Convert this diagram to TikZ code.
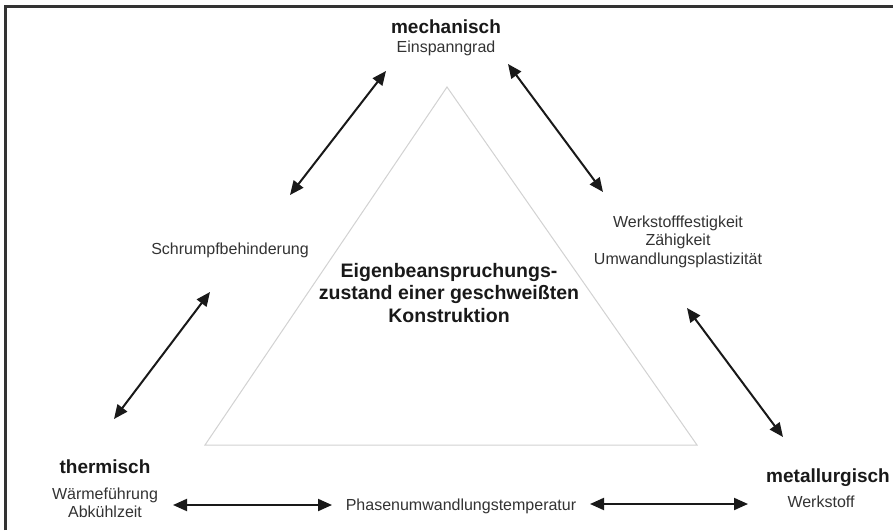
\documentclass[tikz,border=0pt]{standalone}
\usepackage{fontspec}
\setmainfont{Liberation Sans}
\usetikzlibrary{arrows.meta}

\begin{document}
\begin{tikzpicture}[
  x=1pt,y=-1pt,
  cat/.style={font=\fontsize{19}{21}\selectfont\bfseries,text=black!90,inner sep=0pt,anchor=base},
  sub/.style={font=\fontsize{16}{18.5}\selectfont,text=black!80,inner sep=0pt,anchor=base,align=center},
  arr/.style={line width=2pt,draw=black!90,{Triangle[length=14pt,width=12pt]}-{Triangle[length=14pt,width=12pt]}}
]
\useasboundingbox (0,0) rectangle (893,530);
\fill[white] (0,0) rectangle (893,530);
\draw[line width=2.5pt,black!80] (5.3,530) -- (5.3,6.6) -- (893,6.6);

% triangle
\draw[gray!35,line width=1pt] (447,87) -- (205,445) -- (697,445) -- cycle;

\node[cat] (mech) at (446,33) {mechanisch};
\node[sub] (einsp) at (446,52) {Einspanngrad};
\node[sub] (schrumpf) at (230,254) {Schrumpfbehinderung};
\node[sub] (festigk) at (678,264) {Werkstofffestigkeit\\Zähigkeit\\Umwandlungsplastizität};
\node[cat,align=center,font=\fontsize{19.5}{22.5}\selectfont\bfseries] (zustand) at (449,322)
  {Eigenbeanspruchungs-\\zustand einer geschweißten\\Konstruktion};
\node[cat] (therm) at (105,473) {thermisch};
\node[sub,font=\fontsize{16}{17.5}\selectfont] (waerme) at (105,517) {Wärmeführung\\Abkühlzeit};
\node[sub] (phase) at (461,510) {Phasenumwandlungstemperatur};
\node[cat] (metall) at (828,482) {metallurgisch};
\node[sub] (werkst) at (821,507) {Werkstoff};

% arrow ends
\coordinate (mt1) at (386,71);
\coordinate (sl1) at (290,195);
\coordinate (mt2) at (508,64);
\coordinate (fr1) at (603,192);
\coordinate (sl2) at (210,292);
\coordinate (th1) at (114,419);
\coordinate (fr2) at (687,308);
\coordinate (me1) at (783,437);
\coordinate (th2) at (173,505);
\coordinate (ph1) at (332,505);
\coordinate (ph2) at (590,504);
\coordinate (me2) at (748,504);

\path (mt1) edge[arr] (sl1)
(mt2) edge[arr] (fr1)
(sl2) edge[arr] (th1)
(fr2) edge[arr] (me1)
(th2) edge[arr] (ph1)
(ph2) edge[arr] (me2);
\end{tikzpicture}
\end{document}
